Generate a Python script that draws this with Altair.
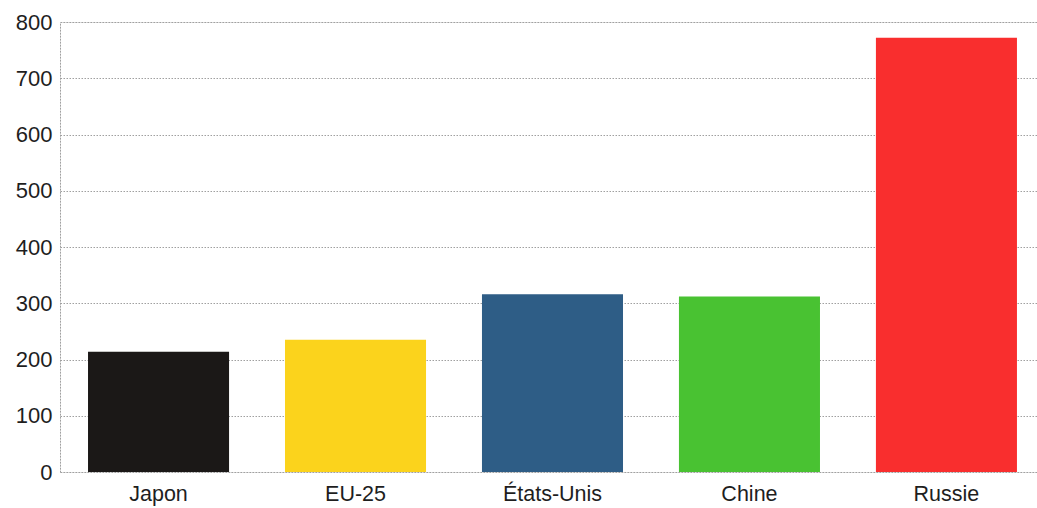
import altair as alt
import pandas as pd

pays = ["Japon", "EU-25", "États-Unis", "Chine", "Russie"]
valeurs = [214, 235, 316, 312, 772]
couleurs = ["#1b1817", "#fbd31c", "#2e5d86", "#49c232", "#f92e2e"]

df = pd.DataFrame({"pays": pays, "valeur": valeurs, "couleur": couleurs})

chart = alt.Chart(df).mark_bar().encode(
    x=alt.X("pays:N", sort=pays, title=None,
            scale=alt.Scale(paddingInner=0.284, paddingOuter=0.122, align=0.583),
            axis=alt.Axis(labelAngle=0, labelFontSize=21.5, labelFont="Liberation Sans",
                          labelColor="#1e1e1e", ticks=False, domain=False, labelPadding=11)),
    y=alt.Y("valeur:Q", title=None,
            scale=alt.Scale(domain=[0, 800], nice=False),
            axis=alt.Axis(values=list(range(0, 801, 100)), labelFontSize=22,
                          labelFont="Liberation Sans", labelColor="#1e1e1e",
                          ticks=False, labelPadding=8,
                          domainColor="#a0a0a0", domainDash=[1.5, 1.5], domainWidth=1,
                          gridColor="#a0a0a0", gridDash=[1.5, 1.5], gridWidth=1)),
    color=alt.Color("couleur:N", scale=None, legend=None),
).properties(
    width=977, height=450,
    autosize=alt.AutoSizeParams(type="none"),
    padding={"left": 60, "top": 22, "right": 0, "bottom": 36},
).configure_view(stroke=None).configure(background="white")

chart.save("out.html", embed_options={"renderer": "svg", "actions": False})
